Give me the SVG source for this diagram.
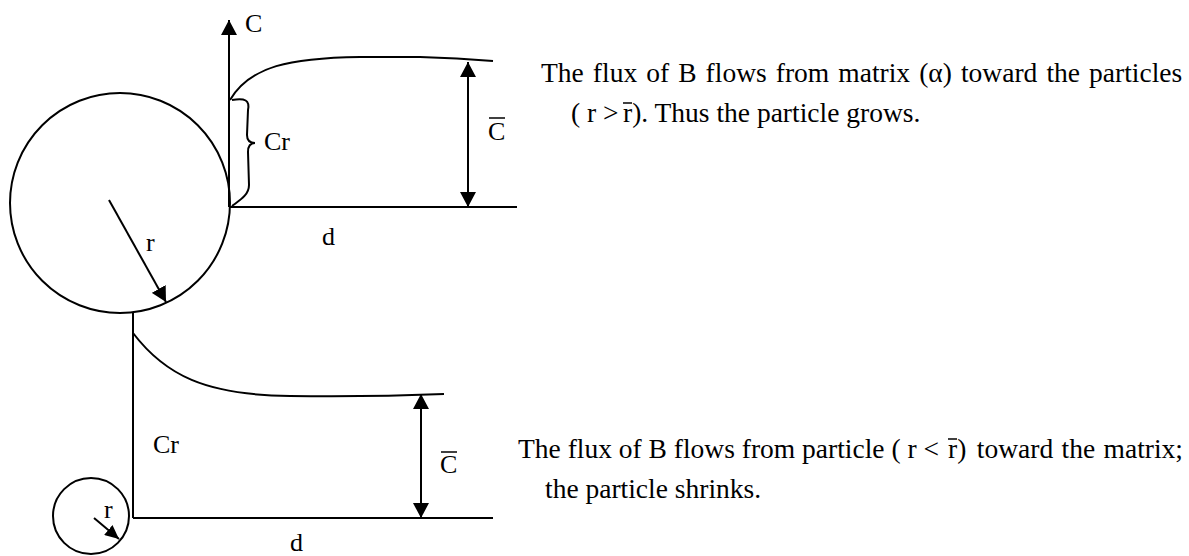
<svg xmlns="http://www.w3.org/2000/svg" width="1189" height="556" viewBox="0 0 1189 556">
<style>
  .ln{fill:none;stroke:#000;stroke-width:2}
  .bar{stroke:#000;stroke-width:1.5}
  .t{font-family:"Liberation Serif","Times New Roman",serif;font-size:27.5px;fill:#000}
  .lbl{font-family:"Liberation Serif","Times New Roman",serif;font-size:26px;fill:#000}
</style>
<defs>
  <marker id="ah" viewBox="0 0 15 16" refX="15" refY="8" markerWidth="15" markerHeight="16" markerUnits="userSpaceOnUse" orient="auto-start-reverse">
    <path d="M0,0 L15,8 L0,16 Z" fill="#000"/>
  </marker>
  <marker id="ahs" viewBox="0 0 14 13" refX="14" refY="6.5" markerWidth="14" markerHeight="13" markerUnits="userSpaceOnUse" orient="auto">
    <path d="M0,0 L14,6.5 L0,13 Z" fill="#000"/>
  </marker>
</defs>
<rect width="1189" height="556" fill="#fff"/>

<g id="big-particle">
  <circle class="ln" cx="120" cy="203" r="110"/>
  <line class="ln" x1="109" y1="200" x2="166" y2="302" marker-end="url(#ah)"/>
  <text class="lbl" x="146" y="251">r</text>
</g>

<g id="small-particle">
  <circle class="ln" cx="91" cy="516" r="38"/>
  <line class="ln" x1="94" y1="518" x2="119" y2="539" marker-end="url(#ahs)"/>
  <text class="lbl" x="104" y="518">r</text>
</g>

<g id="top-profile">
  <line class="ln" x1="229" y1="207" x2="229" y2="20" marker-end="url(#ah)"/>
  <text class="lbl" x="245" y="32">C</text>
  <line class="ln" x1="229" y1="207" x2="517" y2="207"/>
  <path class="ln" d="M230,100 C250,66 290,58 360,57 L420,57 C450,58 480,60 493,61"/>
  <path class="ln" d="M232,100 C245,98 250,100 248,110 L247,135 C247,141 250,143 255,143 C250,143 248,146 248,152 L249,185 C249,195 240,200 232,206"/>
  <text class="lbl" x="264" y="150">Cr</text>
  <line class="ln" x1="468" y1="62" x2="468" y2="207" marker-start="url(#ah)" marker-end="url(#ah)"/>
  <text class="lbl" x="488" y="140">C</text>
  <line class="bar" x1="489" y1="118" x2="505" y2="118"/>
  <text class="lbl" x="322" y="245">d</text>
</g>

<g id="bottom-profile">
  <line class="ln" x1="133" y1="313" x2="133" y2="518"/>
  <line class="ln" x1="133" y1="518" x2="493" y2="518"/>
  <path class="ln" d="M133,333 C165,375 205,395 290,396 C360,397 420,395 444,394"/>
  <text class="lbl" x="153" y="453">Cr</text>
  <line class="ln" x1="421" y1="394" x2="421" y2="518" marker-start="url(#ah)" marker-end="url(#ah)"/>
  <text class="lbl" x="440" y="473">C</text>
  <line class="bar" x1="441" y1="452" x2="457" y2="452"/>
  <text class="lbl" x="290" y="551">d</text>
</g>

<g id="text-top">
  <text class="t" x="541" y="82" word-spacing="2.2">The flux of B flows from matrix (α) toward the particles</text>
  <text class="t" x="571" y="122">( r &gt;<tspan x="623">r). Thus the particle grows.</tspan></text>
  <line class="bar" x1="623" y1="103" x2="632" y2="103"/>
</g>

<g id="text-bottom">
  <text class="t" x="518" y="458">The flux of B flows from particle ( r &lt;<tspan x="948">r)</tspan></text>
  <text class="t" x="1183" y="458" text-anchor="end" word-spacing="1.5">toward the matrix;</text>
  <line class="bar" x1="948" y1="439" x2="957" y2="439"/>
  <text class="t" x="545" y="498">the particle shrinks.</text>
</g>
</svg>
